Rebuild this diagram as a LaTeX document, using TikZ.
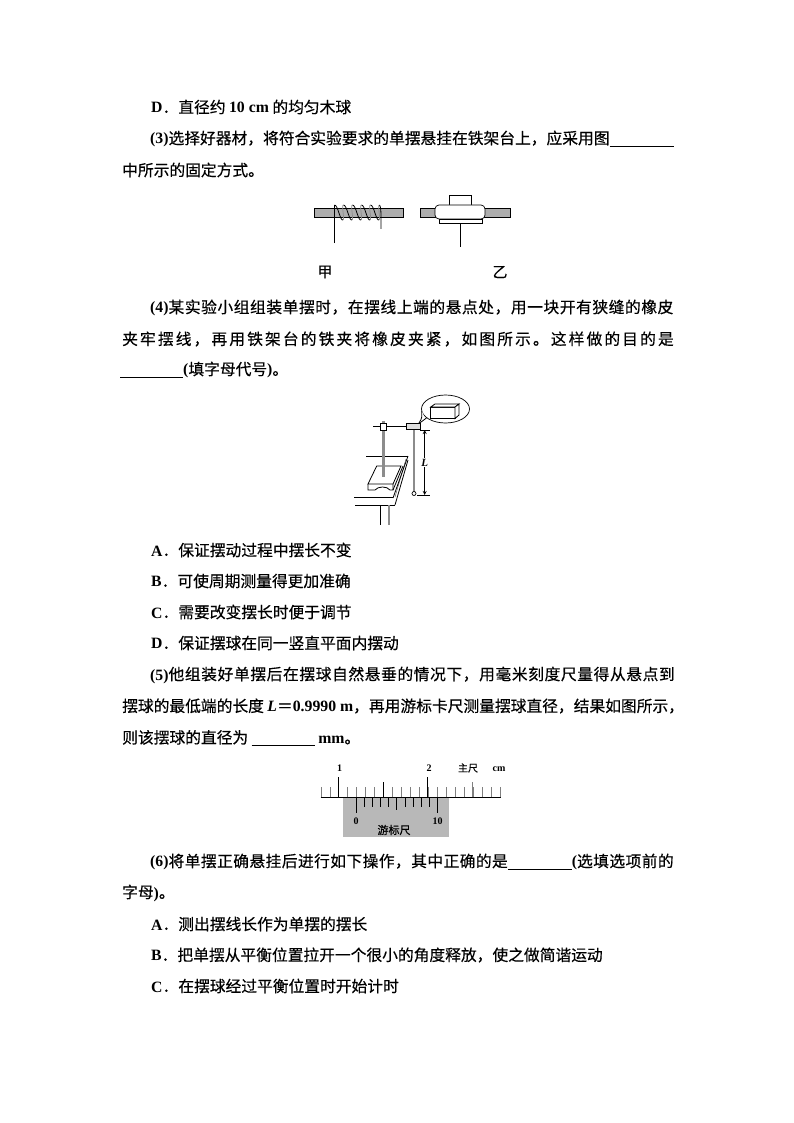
\documentclass[tikz,border=0pt]{standalone}
\usepackage{fontspec}
\usepackage{xcolor}
\setmainfont[FakeBold=0.35]{Noto Sans CJK SC}
\newfontfamily\latinfont[BoldFont=*]{Liberation Serif}
\newfontfamily\latinbold{Liberation Serif Bold}
\newcommand{\lat}[1]{{\latinbold #1}}
\newcommand{\blankline}[1]{\rule[-2.5pt]{#1pt}{0.8pt}}
\definecolor{bargray}{gray}{0.68}
\definecolor{vergray}{gray}{0.72}
\definecolor{rodgray}{gray}{0.55}
\usetikzlibrary{shapes, positioning}

\begin{document}
\begin{tikzpicture}[
            x=1pt, y=-1pt,
            txtline/.style={anchor=west, inner sep=0pt, font=\fontsize{15.75}{18}\selectfont},
            lsp/.style={font=\fontsize{15.75}{18}\selectfont\addfontfeature{LetterSpace=#1}},
            caplabel/.style={inner sep=0pt, font=\fontsize{15}{16}\selectfont},
            scalelabel/.style={inner sep=0pt, font=\fontsize{10}{12}\selectfont},
            bar/.style={draw=black, fill=bargray, line width=0.8pt},
            wire/.style={draw=black, line width=0.8pt},
            graytick/.style={draw=black!50, line width=0.9pt},
            blacktick/.style={draw=black, line width=0.8pt},
        ]
            \useasboundingbox[fill=white] (0,0) rectangle (794,1123);
            \node[txtline] (lineD) at (151,107) {\lat{D}．直径约 \lat{10 cm} 的均匀木球};
            \node[txtline] (lineThree) at (150,139) {\lat{(3)}选择好器材，将符合实验要求的单摆悬挂在铁架台上，应采用图\blankline{64}};
            \node[txtline] (lineThreeB) at (122,170) {中所示的固定方式。};
            \node[caplabel] (labelJia) at (325,272) {甲};
            \node[caplabel] (labelYi) at (500,272) {乙};
            \node[txtline, lsp=3.5] (lineFour) at (150,308) {\lat{(4)}某实验小组组装单摆时，在摆线上端的悬点处，用一块开有狭缝的橡皮};
            \node[txtline, lsp=13.4] (lineFourB) at (122,339) {夹牢摆线，再用铁架台的铁夹将橡皮夹紧，如图所示。这样做的目的是};
            \node[txtline] (lineFourC) at (120,370) {\blankline{63}\lat{(}填字母代号\lat{)}。};
            \node[txtline] (optA) at (151,550) {\lat{A}．保证摆动过程中摆长不变};
            \node[txtline] (optB) at (151,581) {\lat{B}．可使周期测量得更加准确};
            \node[txtline] (optC) at (151,612) {\lat{C}．需要改变摆长时便于调节};
            \node[txtline] (optD) at (151,643) {\lat{D}．保证摆球在同一竖直平面内摆动};
            \node[txtline, lsp=3.8] (lineFive) at (150,675) {\lat{(5)}他组装好单摆后在摆球自然悬垂的情况下，用毫米刻度尺量得从悬点到};
            \node[txtline] (lineFiveB) at (122,706) {摆球的最低端的长度 \lat{\itshape L}＝\lat{0.9990 m}，再用游标卡尺测量摆球直径，结果如图所示，};
            \node[txtline] (lineFiveC) at (122,738) {则该摆球的直径为 \blankline{63} \lat{mm}。};
            \node[txtline, lsp=2.7] (lineSix) at (150,862) {\lat{(6)}将单摆正确悬挂后进行如下操作，其中正确的是\blankline{64}\lat{(}选填选项前的};
            \node[txtline] (lineSixB) at (122,893) {字母\lat{)}。};
            \node[txtline] (optSixA) at (151,924) {\lat{A}．测出摆线长作为单摆的摆长};
            \node[txtline] (optSixB) at (151,955) {\lat{B}．把单摆从平衡位置拉开一个很小的角度释放，使之做简谐运动};
            \node[txtline] (optSixC) at (151,986) {\lat{C}．在摆球经过平衡位置时开始计时};

            \draw[bar] (314,208) rectangle (403,217.5);
            \foreach \i in {0,...,4} {
                \draw[draw=black!45, line width=0.7pt] (343+\i*9,220) .. controls (345+\i*9,219) and (341+\i*9,205) .. (343.5+\i*9,205);
                \draw[wire] (334.5+\i*9,205) .. controls (338+\i*9,205) and (340+\i*9,221) .. (343+\i*9,220);
            }
            \draw[wire] (334.5,243) -- (334.5,205);
            \draw[wire] (379.5,205) .. controls (381,208) .. (381,229);

            \draw[bar] (420,208) rectangle (510,217.5);
            \draw[wire, fill=white] (449.5,205) -- (449.5,195) -- (471.5,195) -- (471.5,205);
            \draw[wire, fill=white] (439,219) rectangle (482,223.5);
            \node[draw=black, fill=white, rounded corners=4pt, minimum width=50pt, minimum height=14pt, inner sep=0pt, line width=0.7pt] (clampYi) at (460,212) {};
            \draw[wire] (460,223.5) -- (460,247);

            \draw[blacktick] (366,456) -- (408,456);
            \draw[blacktick] (376.7,466) -- (401,466) -- (393,484) -- (368,484) -- cycle;
            \draw[blacktick] (368,484) -- (368,490) -- (375,490) .. controls (378,486) and (387,486) .. (390,490) -- (393,490) -- (393,484);
            \draw[blacktick] (393,490) -- (403,466);
            \draw[black!70] (395,497) -- (406,459);
            \draw[blacktick] (393,498) -- (408,456);
            \draw[blacktick] (395,505) -- (408,460);
            \draw[blacktick] (354,497.7) -- (393,497.7);
            \draw[blacktick] (355,505) -- (395,505);
            \draw[blacktick] (380.7,505) -- (380.7,525);
            \draw[draw=rodgray, line width=2pt] (389,505) -- (389,525);
            \draw[draw=rodgray, line width=2.2pt] (383.5,421) -- (383.5,477);
            \draw[blacktick] (373,426) -- (407,426);
            \draw[blacktick, fill=white] (380,423) rectangle (386,430);
            \draw[draw=rodgray, line width=2pt] (413.5,429) -- (413.5,492);
            \node[circle, draw=black, fill=white, inner sep=0pt, minimum size=4pt, line width=0.7pt] (bob) at (414,493.5) {};
            \node[ellipse, draw=black, inner sep=0pt, minimum width=48pt, minimum height=28pt, line width=0.7pt] (bubble) at (445.5,409) {};
            \fill[white] (422,411) -- (425,419) -- (420,424) -- cycle;
            \draw[blacktick] (421.7,411) .. controls (422,418) .. (419,423);
            \draw[blacktick] (419,423.5) -- (426.5,418);
            \draw[blacktick, fill=bargray!40] (406,423) rectangle (420,429);
            \draw[blacktick, fill=white] (430.7,407) rectangle (455,418.5);
            \draw[blacktick, fill=white] (430.7,407) -- (435,404) -- (459,404) -- (455,407) -- cycle;
            \draw[blacktick, fill=white] (455,407) -- (459,404) -- (459,415) -- (455,418.5) -- cycle;
            \coordinate (topTick) at (424.7,430);
            \coordinate (botTick) at (424.7,495);
            \draw[blacktick] (420,430) -- (430,430);
            \draw[blacktick] (417,495) -- (430,495);
            \draw[blacktick, <->, >=stealth] (topTick) -- (botTick) node[midway, fill=white, inner sep=1pt, font=\fontsize{11}{12}\selectfont\latinbold\itshape] (labelL) {L};

            \fill[vergray] (343.3,797.3) rectangle (449.3,836.7);
            \draw[blacktick] (320.7,797.3) -- (500.7,797.3);
            \foreach \i in {0,...,20} {
                \draw[graytick] (321+\i*8.97,797.3) -- (321+\i*8.97,786.7);
            }
            \draw[blacktick] (338.7,797.3) -- (338.7,777.3);
            \draw[blacktick] (427.3,797.3) -- (427.3,777.3);
            \draw[blacktick] (383,797.3) -- (383,782);
            \draw[graytick] (472.5,797.3) -- (472.5,782);
            \foreach \i in {1,2,3,4,6,7,8,9} {
                \draw[blacktick] (356+\i*8.17,797.3) -- (356+\i*8.17,806.7);
            }
            \draw[blacktick] (356,797.3) -- (356,813);
            \draw[blacktick] (396.8,797.3) -- (396.8,810);
            \draw[blacktick] (437.7,797.3) -- (437.7,813);
            \node[scalelabel] (markOne) at (339.5,768) {\lat{1}};
            \node[scalelabel] (markTwo) at (429,768) {\lat{2}};
            \node[scalelabel] (mainName) at (468,768) {主尺};
            \node[scalelabel] (unitCm) at (499,769) {\lat{cm}};
            \node[scalelabel] (verZero) at (356,821) {\lat{0}};
            \node[scalelabel] (verTen) at (437.7,821) {\lat{10}};
            \node[scalelabel, font=\fontsize{11}{12}\selectfont] (verName) at (394,830) {游标尺};
        \end{tikzpicture}
\end{document}
